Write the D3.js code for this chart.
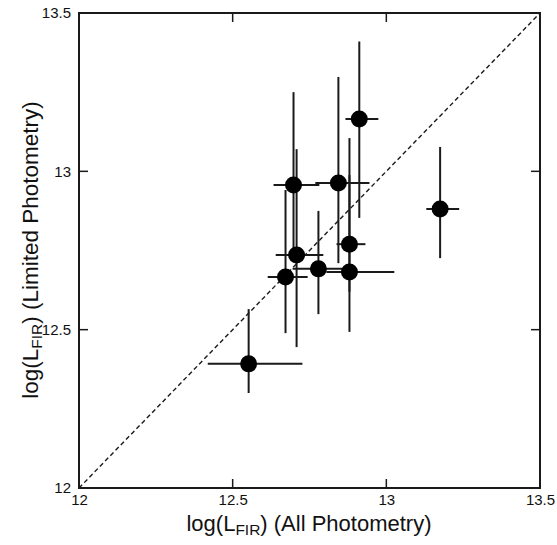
<!DOCTYPE html>
<html>
<head>
<meta charset="utf-8">
<script src="https://cdn.jsdelivr.net/npm/d3@7"></script>
<style>
  html, body { margin: 0; padding: 0; background: #fff; }
  svg { display: block; }
  text { font-family: "Liberation Sans", Arial, Helvetica, sans-serif; fill: #111; }
</style>
</head>
<body>
<svg id="chart" width="557" height="545"></svg>
<script>
// log L_FIR from all photometry (x) and limited photometry (y), with asymmetric error bars
const xAll   = [12.552, 12.672, 12.708, 12.779, 12.880, 12.880, 12.844, 12.698, 12.912, 13.175];
const xLo    = [12.419, 12.614, 12.640, 12.695, 12.805, 12.838, 12.769, 12.633, 12.867, 13.130];
const xHi    = [12.727, 12.744, 12.795, 12.857, 13.026, 12.932, 12.945, 12.782, 12.974, 13.237];
const yLim   = [12.392, 12.666, 12.736, 12.692, 12.682, 12.770, 12.963, 12.957, 13.165, 12.881];
const yLo    = [12.300, 12.489, 12.445, 12.549, 12.493, 12.620, 12.710, 12.750, 12.853, 12.726];
const yHi    = [12.565, 12.941, 13.070, 12.875, 12.988, 13.105, 13.298, 13.250, 13.410, 13.077];
const tickValues = [12, 12.5, 13, 13.5];
const tickLabels = ["12", "12.5", "13", "13.5"];

const points = xAll.map((x, i) => ({
  x, y: yLim[i], x0: xLo[i], x1: xHi[i], y0: yLo[i], y1: yHi[i]
}));

const svg = d3.select("#chart");
const pL = 79, pR = 540, pT = 13, pB = 488;

const x = d3.scaleLinear().domain([12, 13.5]).range([pL, pR]);
const y = d3.scaleLinear().domain([12, 13.5]).range([pB, pT]);

const ink = "#1a1a1a";
const fmt = v => tickLabels[tickValues.indexOf(v)];

// one-to-one line
svg.append("line")
  .attr("x1", x(12)).attr("y1", y(12))
  .attr("x2", x(13.5)).attr("y2", y(13.5))
  .attr("stroke", ink).attr("stroke-width", 1.4)
  .attr("stroke-dasharray", "4.5,3");

// error bars
const g = svg.append("g");
g.selectAll("line.ev").data(points).join("line")
  .attr("class", "ev")
  .attr("x1", d => x(d.x)).attr("x2", d => x(d.x))
  .attr("y1", d => y(d.y0)).attr("y2", d => y(d.y1))
  .attr("stroke", ink).attr("stroke-width", 2);
g.selectAll("line.eh").data(points).join("line")
  .attr("class", "eh")
  .attr("x1", d => x(d.x0)).attr("x2", d => x(d.x1))
  .attr("y1", d => y(d.y)).attr("y2", d => y(d.y))
  .attr("stroke", ink).attr("stroke-width", 2);

// markers
g.selectAll("circle").data(points).join("circle")
  .attr("cx", d => x(d.x)).attr("cy", d => y(d.y))
  .attr("r", 8.5).attr("fill", "#000");

// axes with inward ticks on all four sides
const tick = 9;
const axB = d3.axisBottom(x).tickValues(tickValues).tickSize(0).tickPadding(6).tickFormat(fmt);
const axL = d3.axisLeft(y).tickValues(tickValues).tickSize(0).tickPadding(8).tickFormat(fmt);

const gb = svg.append("g").attr("transform", `translate(0,${pB})`).call(axB);
gb.selectAll("text").attr("font-size", 15);
const gl = svg.append("g").attr("transform", `translate(${pL},0)`).call(axL);
gl.selectAll("text").attr("font-size", 15);
svg.selectAll(".domain").remove();

const tk = svg.append("g").attr("stroke", ink).attr("stroke-width", 1.5);
tickValues.slice(1, -1).forEach(v => {
  tk.append("line").attr("x1", x(v)).attr("x2", x(v)).attr("y1", pB).attr("y2", pB - tick);
  tk.append("line").attr("x1", x(v)).attr("x2", x(v)).attr("y1", pT).attr("y2", pT + tick);
  tk.append("line").attr("y1", y(v)).attr("y2", y(v)).attr("x1", pL).attr("x2", pL + tick);
  tk.append("line").attr("y1", y(v)).attr("y2", y(v)).attr("x1", pR).attr("x2", pR - tick);
});

// frame
svg.append("rect")
  .attr("x", pL).attr("y", pT)
  .attr("width", pR - pL).attr("height", pB - pT)
  .attr("fill", "none").attr("stroke", ink).attr("stroke-width", 2);

// axis titles with subscript FIR
function title(sel, tail) {
  sel.append("tspan").text("log(L");
  sel.append("tspan").attr("font-size", 15.5).attr("dy", 4).text("FIR");
  sel.append("tspan").attr("dy", -4).text(tail);
}
svg.append("text")
  .attr("x", 309).attr("y", 531)
  .attr("text-anchor", "middle").attr("font-size", 22)
  .call(title, ") (All Photometry)");
svg.append("text")
  .attr("transform", `translate(38,250) rotate(-90)`)
  .attr("text-anchor", "middle").attr("font-size", 22.5)
  .call(title, ") (Limited Photometry)");
</script>
</body>
</html>
